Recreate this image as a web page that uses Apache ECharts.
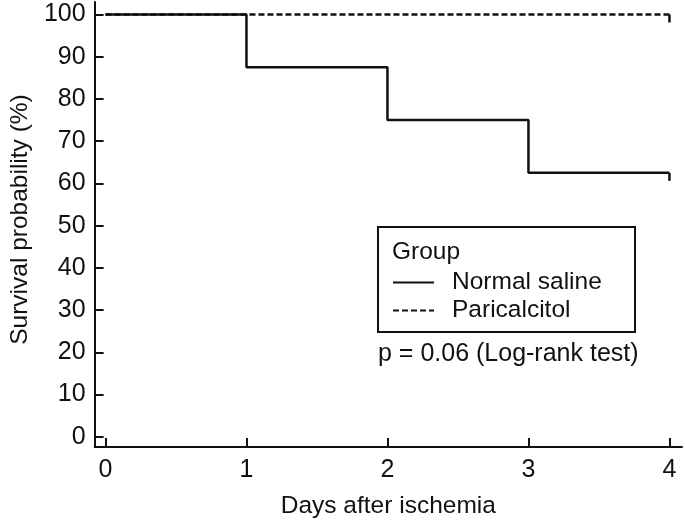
<!DOCTYPE html>
<html>
<head>
<meta charset="utf-8">
<script src="https://cdn.jsdelivr.net/npm/echarts@6/dist/echarts.min.js"></script>
<style>
html,body{margin:0;padding:0;background:#fff;}
#chart{width:685px;height:524px;}
</style>
</head>
<body>
<div id="chart"></div>
<script>
// ---- data ----
const salineDays = [0, 1, 2, 3, 4];
const salineSurvival = [100, 87.5, 75, 62.5, 62.5];
const paricalcitolDays = [0, 4];
const paricalcitolSurvival = [100, 100];
const xTicks = [0, 1, 2, 3, 4];
const yTicks = [0, 10, 20, 30, 40, 50, 60, 70, 80, 90, 100];
const seriesNames = ['Normal saline', 'Paricalcitol'];
const legendTitle = 'Group';
const pText = 'p = 0.06 (Log-rank test)';
const xName = 'Days after ischemia';
const yName = 'Survival probability (%)';

const FONT = "'Liberation Sans', Arial, sans-serif";
const INK = '#111';
const FS = 24.5;

function toPoints(xs, ys) {
  return xs.map((x, i) => {
    const p = { value: [x, ys[i]] };
    if (i === xs.length - 1) {
      p.symbol = 'rect';
      p.symbolSize = [2.5, 8];
      p.symbolOffset = [0, 4];
      p.itemStyle = { color: INK };
    }
    return p;
  });
}

const chart = echarts.init(document.getElementById('chart'), null, { renderer: 'canvas' });
chart.setOption({
  animation: false,
  backgroundColor: '#fff',
  textStyle: { fontFamily: FONT },
  grid: { left: 87, right: 3, top: 2, bottom: 77, containLabel: false },
  xAxis: {
    type: 'value',
    min: -0.077,
    max: 4.089,
    name: xName,
    nameLocation: 'middle',
    nameGap: 47,
    nameTextStyle: { fontSize: FS, color: INK, fontFamily: FONT },
    axisLine: { show: true, onZero: false, lineStyle: { color: INK, width: 2 } },
    axisTick: { show: true, inside: true, length: 9, customValues: xTicks, lineStyle: { color: INK, width: 2 } },
    axisLabel: { customValues: xTicks, fontSize: 25, color: INK, margin: 11, fontFamily: FONT },
    splitLine: { show: false }
  },
  yAxis: {
    type: 'value',
    min: -2.42,
    max: 102.96,
    name: yName,
    nameLocation: 'middle',
    nameGap: 39,
    nameRotate: 90,
    nameTextStyle: { fontSize: FS, color: INK, fontFamily: FONT, padding: [0, 0, 0, 10] },
    axisLine: { show: true, onZero: false, lineStyle: { color: INK, width: 2 } },
    axisTick: { show: true, inside: true, length: 9, customValues: yTicks, lineStyle: { color: INK, width: 2 } },
    axisLabel: { customValues: yTicks, fontSize: 25, color: INK, margin: 9, fontFamily: FONT },
    splitLine: { show: false }
  },
  legend: {
    data: seriesNames,
    orient: 'vertical',
    left: 392,
    top: 270,
    padding: 0,
    itemWidth: 41,
    itemHeight: 14,
    itemGap: 3,
    itemStyle: { opacity: 0 },
    textStyle: { fontSize: FS, lineHeight: 24, color: INK, fontFamily: FONT, padding: [0, 0, 0, 13] }
  },
  graphic: [
    {
      type: 'rect',
      shape: { x: 378, y: 227, width: 257, height: 105 },
      style: { fill: 'none', stroke: INK, lineWidth: 2 }
    },
    {
      type: 'text',
      x: 392, y: 252,
      style: { text: legendTitle, font: FS + "px " + FONT, fill: INK, textVerticalAlign: 'middle' }
    },
    {
      type: 'text',
      x: 378, y: 354,
      style: { text: pText, font: "25px " + FONT, fill: INK, textVerticalAlign: 'middle' }
    }
  ],
  series: [
    {
      name: seriesNames[0],
      type: 'line',
      step: 'end',
      symbol: 'none',
      data: toPoints(salineDays, salineSurvival),
      lineStyle: { color: INK, width: 2.5, type: 'solid' },
      itemStyle: { color: INK },
      z: 2
    },
    {
      name: seriesNames[1],
      type: 'line',
      symbol: 'none',
      data: toPoints(paricalcitolDays, paricalcitolSurvival),
      lineStyle: { color: INK, width: 2.5, type: [6, 3] },
      itemStyle: { color: INK },
      z: 3
    }
  ]
});
</script>
</body>
</html>
